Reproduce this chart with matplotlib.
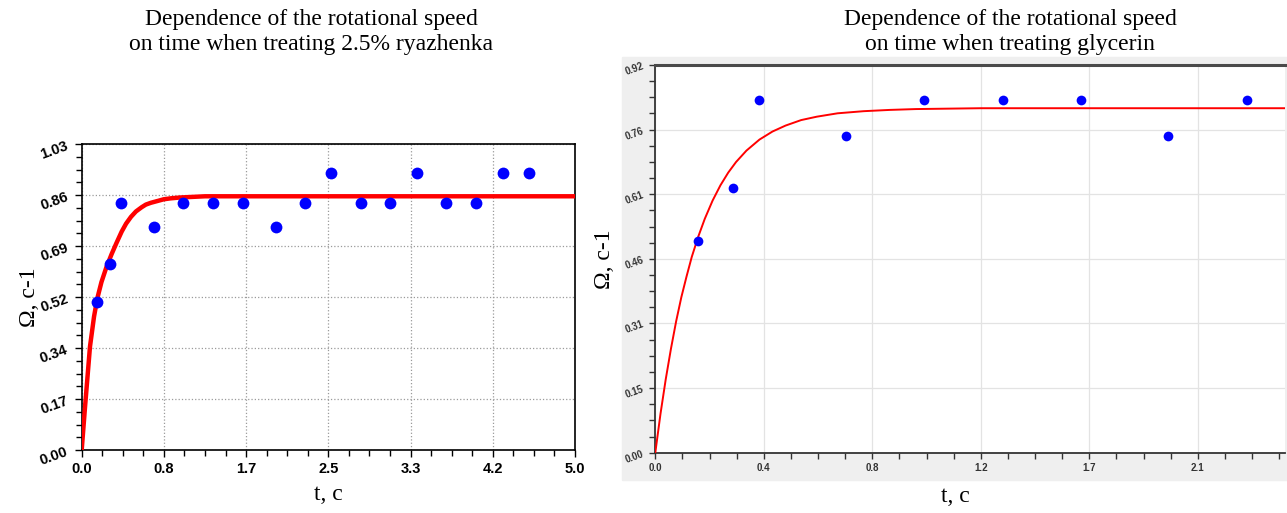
import numpy as np
import matplotlib
matplotlib.use("Agg")
import matplotlib.pyplot as plt
from matplotlib.patches import Rectangle

# --- left: 2.5% ryazhenka ---
ryaz_t = [0.155, 0.291, 0.399, 0.733, 1.027, 1.326, 1.632, 1.965, 2.264,
          2.531, 2.833, 3.128, 3.403, 3.694, 3.996, 4.275, 4.531]
ryaz_w = [0.499, 0.625, 0.831, 0.750, 0.831, 0.831, 0.831, 0.750, 0.831,
          0.934, 0.831, 0.831, 0.934, 0.831, 0.831, 0.934, 0.934]
ryaz_fit_t = [0, 0.034, 0.084, 0.125, 0.158, 0.2, 0.25, 0.304, 0.35, 0.405,
              0.45, 0.5, 0.55, 0.607, 0.65, 0.7, 0.833, 0.9, 1.0, 1.25, 5.0]
ryaz_fit_w = [0, 0.146, 0.348, 0.449, 0.51, 0.565, 0.615, 0.66, 0.695, 0.735,
              0.762, 0.785, 0.803, 0.817, 0.826, 0.832, 0.844, 0.847, 0.85, 0.854, 0.854]
ryaz_xlabels = ["0.0", "0.8", "1.7", "2.5", "3.3", "4.2", "5.0"]
ryaz_ylabels = ["0.00", "0.17", "0.34", "0.52", "0.69", "0.86", "1.03"]

# --- right: glycerin ---
glyc_t = [0.165, 0.300, 0.399, 0.732, 1.032, 1.334, 1.635, 1.970, 2.271]
glyc_w = [0.500, 0.624, 0.832, 0.748, 0.832, 0.832, 0.832, 0.748, 0.832]
glyc_fit_t = [0, 0.02, 0.04, 0.06, 0.08, 0.1, 0.12, 0.14, 0.165, 0.19, 0.22,
              0.25, 0.28, 0.31, 0.35, 0.4, 0.45, 0.5, 0.56, 0.62, 0.7, 0.8,
              0.9, 1.0, 1.25, 2.5]
glyc_fit_w = [0, 0.092, 0.173, 0.245, 0.31, 0.367, 0.416, 0.462, 0.51, 0.552,
              0.595, 0.631, 0.661, 0.686, 0.713, 0.739, 0.758, 0.772, 0.785,
              0.793, 0.801, 0.806, 0.809, 0.811, 0.813, 0.813]
glyc_xlabels = ["0.0", "0.4", "0.8", "1.2", "1.7", "2.1"]
glyc_ylabels = ["0.00", "0.15", "0.31", "0.46", "0.61", "0.76", "0.92"]

W, H = 1287, 513
fig = plt.figure(figsize=(W / 100, H / 100), dpi=100)


def box(x0, y0, x1, y1):
    # pixel box (top-left origin) -> figure fraction rect
    return [x0 / W, 1 - y1 / H, (x1 - x0) / W, (y1 - y0) / H]


serif = "Liberation Serif"
sans = "Liberation Sans"

# grey panel behind the right chart
fig.patches.append(Rectangle((622 / W, 1 - 480 / H), (W - 622) / W, (480 - 57) / H,
                             transform=fig.transFigure, color="#efefef", zorder=-5))

# ---------- left chart ----------
ax = fig.add_axes(box(81.7, 144, 575, 450))
ax.set_zorder(2)
ax.plot(ryaz_fit_t, ryaz_fit_w, color="#ff0000", lw=3.2, zorder=3,
        solid_capstyle="round", solid_joinstyle="round")
ax.plot(ryaz_t, ryaz_w, "o", color="#0000ff", ms=8.5, mec="none", zorder=4)
ax.set_xlim(0, 5.0)
ax.set_ylim(0, 1.03)
ax.set_xticks(np.linspace(0, 5.0, 7))
ax.set_xticklabels(ryaz_xlabels, fontfamily=sans, fontweight="bold", fontsize=10.5)
ax.set_yticks(np.linspace(0, 1.03, 7))
ax.set_yticklabels(ryaz_ylabels, fontfamily=sans, fontweight="bold", fontsize=10.5,
                   rotation=20)
ax.set_xticks(np.linspace(0, 5.0, 25), minor=True)
ax.set_yticks(np.linspace(0, 1.03, 25), minor=True)
ax.tick_params(which="major", length=5, width=1, direction="out")
ax.tick_params(which="minor", length=4, width=1, direction="out")
ax.grid(True, which="major", color="#9a9a9a", linestyle=":", lw=0.9)
for s in ax.spines.values():
    s.set_linewidth(1.2)
ax.set_xlabel("t, c", fontfamily=serif, fontsize=17)
ax.set_ylabel("Ω, c-1", fontfamily=serif, fontsize=17)
ax.xaxis.set_label_coords(0.5, -0.11)
ax.yaxis.set_label_coords(-0.085, 0.5)
fig.text(311 / W, 1 - 32 / H,
         "Dependence of the rotational speed\non time when treating 2.5% ryazhenka",
         ha="center", va="center", fontfamily=serif, fontsize=17, linespacing=1.2)

# ---------- right chart ----------
ax2 = fig.add_axes(box(655.3, 65, 1285, 452.7))
ax2.set_zorder(2)
ax2.set_facecolor("white")
ax2.plot(glyc_fit_t, glyc_fit_w, color="#ff0000", lw=1.4, zorder=3)
ax2.plot(glyc_t, glyc_w, "o", color="#0000ff", ms=7, mec="none", zorder=4)
step = 2.5 / 6
ax2.set_xlim(0, 2.418)
ax2.set_ylim(0, 0.915)
ax2.set_xticks([i * step for i in range(6)])
ax2.set_xticklabels(glyc_xlabels, fontfamily=sans, fontweight="bold", fontsize=7,
                    color="#333333")
ax2.set_yticks(np.linspace(0, 0.915, 7))
ax2.set_yticklabels(glyc_ylabels, fontfamily=sans, fontweight="bold", fontsize=7,
                    color="#333333", rotation=20)
ax2.set_xticks([i * step / 4 for i in range(24)], minor=True)
ax2.set_yticks(np.linspace(0, 0.915, 25), minor=True)
ax2.tick_params(which="both", length=4, width=1, direction="out", color="#333333")
ax2.grid(True, which="major", color="#e3e3e3", linestyle="-", lw=0.9)
ax2.spines["right"].set_visible(False)
ax2.spines["top"].set_linewidth(2.2)
ax2.spines["top"].set_color("#4a4a4a")
for k in ("left", "bottom"):
    ax2.spines[k].set_color("#333333")
    ax2.spines[k].set_linewidth(1.3)
ax2.set_xlabel("t, c", fontfamily=serif, fontsize=17)
ax2.set_ylabel("Ω, c-1", fontfamily=serif, fontsize=17)
ax2.xaxis.set_label_coords(0.476, -0.085)
ax2.yaxis.set_label_coords(-0.064, 0.5)
fig.text(1010 / W, 1 - 32 / H,
         "Dependence of the rotational speed\non time when treating glycerin",
         ha="center", va="center", fontfamily=serif, fontsize=17, linespacing=1.2)

fig.savefig("out.png", dpi=100)
